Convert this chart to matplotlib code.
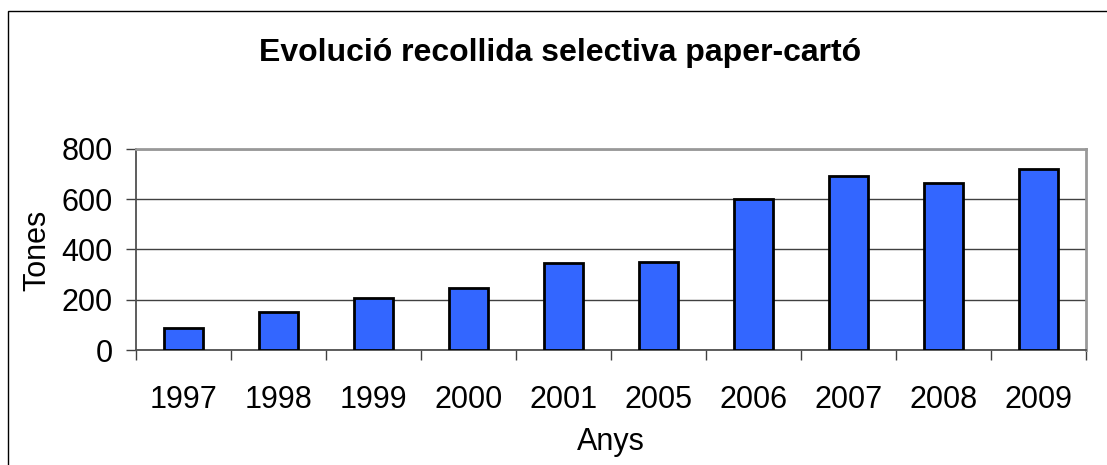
import matplotlib
matplotlib.use("Agg")
import matplotlib.pyplot as plt
from matplotlib.patches import Rectangle
import numpy as np

plt.rcParams['font.family'] = ['Liberation Sans', 'DejaVu Sans']

years = ['1997', '1998', '1999', '2000', '2001', '2005', '2006', '2007', '2008', '2009']
tones = [86, 150, 208, 245, 345, 349, 601, 693, 663, 722]
yticks = [0, 200, 400, 600, 800]

W, H = 1107, 465
fig = plt.figure(figsize=(W / 100, H / 100), dpi=100)
ax = fig.add_axes([136 / W, 1 - 350 / H, (1086 - 136) / W, (350 - 149) / H])

x = np.arange(len(years))
ax.bar(x, tones, width=0.41, color='#3366FF', edgecolor='black', linewidth=2.0, zorder=3)

ax.set_xlim(-0.5, len(years) - 0.5)
ax.set_ylim(0, 800)
ax.set_yticks(yticks)
ax.yaxis.grid(True, color='#404040', linewidth=1.0, zorder=0)

# Category boundary ticks (major, unlabeled) and centered labels (minor)
ax.set_xticks(np.arange(-0.5, len(years), 1.0))
ax.set_xticklabels([])
ax.set_xticks(x, minor=True)
ax.set_xticklabels(years, minor=True)
ax.tick_params(axis='x', which='major', direction='out', length=7, width=1, color='#404040')
ax.tick_params(axis='x', which='minor', length=0, pad=25, labelsize=22)
ax.tick_params(axis='y', direction='out', length=7, width=1, color='#404040', pad=10, labelsize=22)

for side in ['left', 'bottom']:
    ax.spines[side].set_color('#505050')
    ax.spines[side].set_linewidth(1.3)
for side in ['top', 'right']:
    ax.spines[side].set_color('#999999')
    ax.spines[side].set_linewidth(2.0)

fig.text(45 / W, 1 - 250 / H, 'Tones', rotation=90, rotation_mode='anchor',
         ha='center', va='baseline', fontsize=22)
fig.text(611 / W, 1 - 450 / H, 'Anys', ha='center', va='baseline', fontsize=22)

fig.text(560 / W, 1 - 53 / H, 'Evolució recollida selectiva paper-cartó',
         ha='center', va='center', fontsize=23, fontweight='bold')

# outer chart border
fig.patches.append(Rectangle((8 / W, -0.1), 1.2, 1.1 - 11 / H, transform=fig.transFigure,
                             fill=False, edgecolor='black', linewidth=1.0))

fig.savefig('out.png', dpi=100)
